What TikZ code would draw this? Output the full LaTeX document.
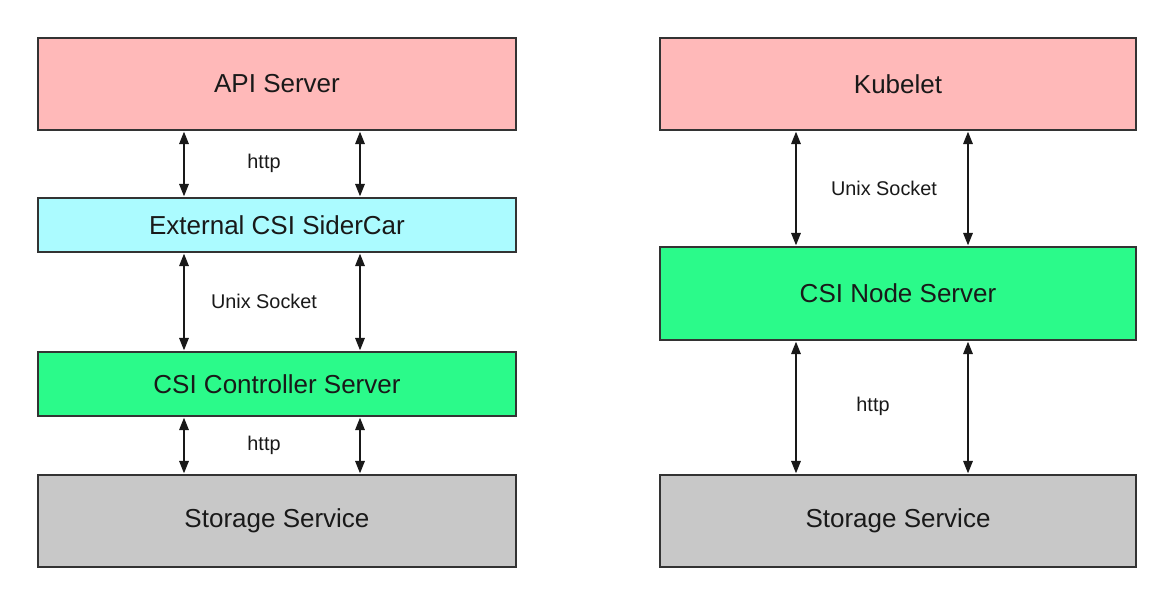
\documentclass[tikz,border=0pt]{standalone}
\usepackage{fontspec}
\setmainfont{Liberation Sans}
\usetikzlibrary{arrows.meta}
\usetikzlibrary{calc}
\definecolor{csi-pink}{HTML}{FFB9B9}
\definecolor{csi-cyan}{HTML}{ABFBFF}
\definecolor{csi-green}{HTML}{2BFA8A}
\definecolor{csi-grey}{HTML}{C8C8C8}
\definecolor{csi-line}{HTML}{333333}

\tikzset{
    layer/.style={draw=csi-line, line width=0.8pt, inner sep=0pt,
                  font=\fontsize{14.8}{17}\selectfont, text=black!90},
    biarrow/.style={{Triangle[length=7pt, width=5.5pt]}-{Triangle[length=7pt, width=5.5pt]},
                    line width=0.6pt, black!90, shorten <=0.6pt, shorten >=0.6pt},
    proto/.style={font=\fontsize{11.3}{13}\selectfont, text=black!90}
}

\begin{document}
\begin{tikzpicture}[x=0.02cm, y=-0.02cm]

    \useasboundingbox (0,0) rectangle (1171,599);

    % controller side
    \begin{scope}[every node/.style={layer, minimum width=9.56cm}]
        \node[fill=csi-pink, minimum height=1.84cm] (api) at (277,84) {API Server};
        \node[fill=csi-cyan, minimum height=1.08cm] (sidecar) at (277,225) {External CSI SiderCar};
        \node[fill=csi-green, minimum height=1.28cm] (ctrl) at (277,384) {CSI Controller Server};
        \node[fill=csi-grey, minimum height=1.84cm] (lstore) at (277,521) {Storage Service};
    \end{scope}

    % node side
    \begin{scope}[every node/.style={layer, minimum width=9.52cm}]
        \node[fill=csi-pink, minimum height=1.84cm] (kubelet) at (898,84) {Kubelet};
        \node[fill=csi-green, minimum height=1.86cm] (csinode) at (898,293.5) {CSI Node Server};
        \node[fill=csi-grey, minimum height=1.84cm] (rstore) at (898,521) {Storage Service};
    \end{scope}

    % arrow columns
    \coordinate (la) at (184,0);
    \coordinate (lb) at (360,0);
    \coordinate (ra) at (796,0);
    \coordinate (rb) at (968,0);

    % connections
    \foreach \top/\bot in {api/sidecar, sidecar/ctrl, ctrl/lstore}
        \foreach \col in {la, lb}
            \draw[biarrow] (\top.south -| \col) -- (\bot.north -| \col);
    \foreach \top/\bot in {kubelet/csinode, csinode/rstore}
        \foreach \col in {ra, rb}
            \draw[biarrow] (\top.south -| \col) -- (\bot.north -| \col);

    % protocol labels
    \begin{scope}[every node/.style={proto}]
        \node (http1) at (264,163) {http};
        \node (unix1) at (264,301) {Unix Socket};
        \node (http2) at (264,445) {http};
        \node (unix2) at (884,188) {Unix Socket};
        \node (http3) at (873,406) {http};
    \end{scope}

\end{tikzpicture}
\end{document}
